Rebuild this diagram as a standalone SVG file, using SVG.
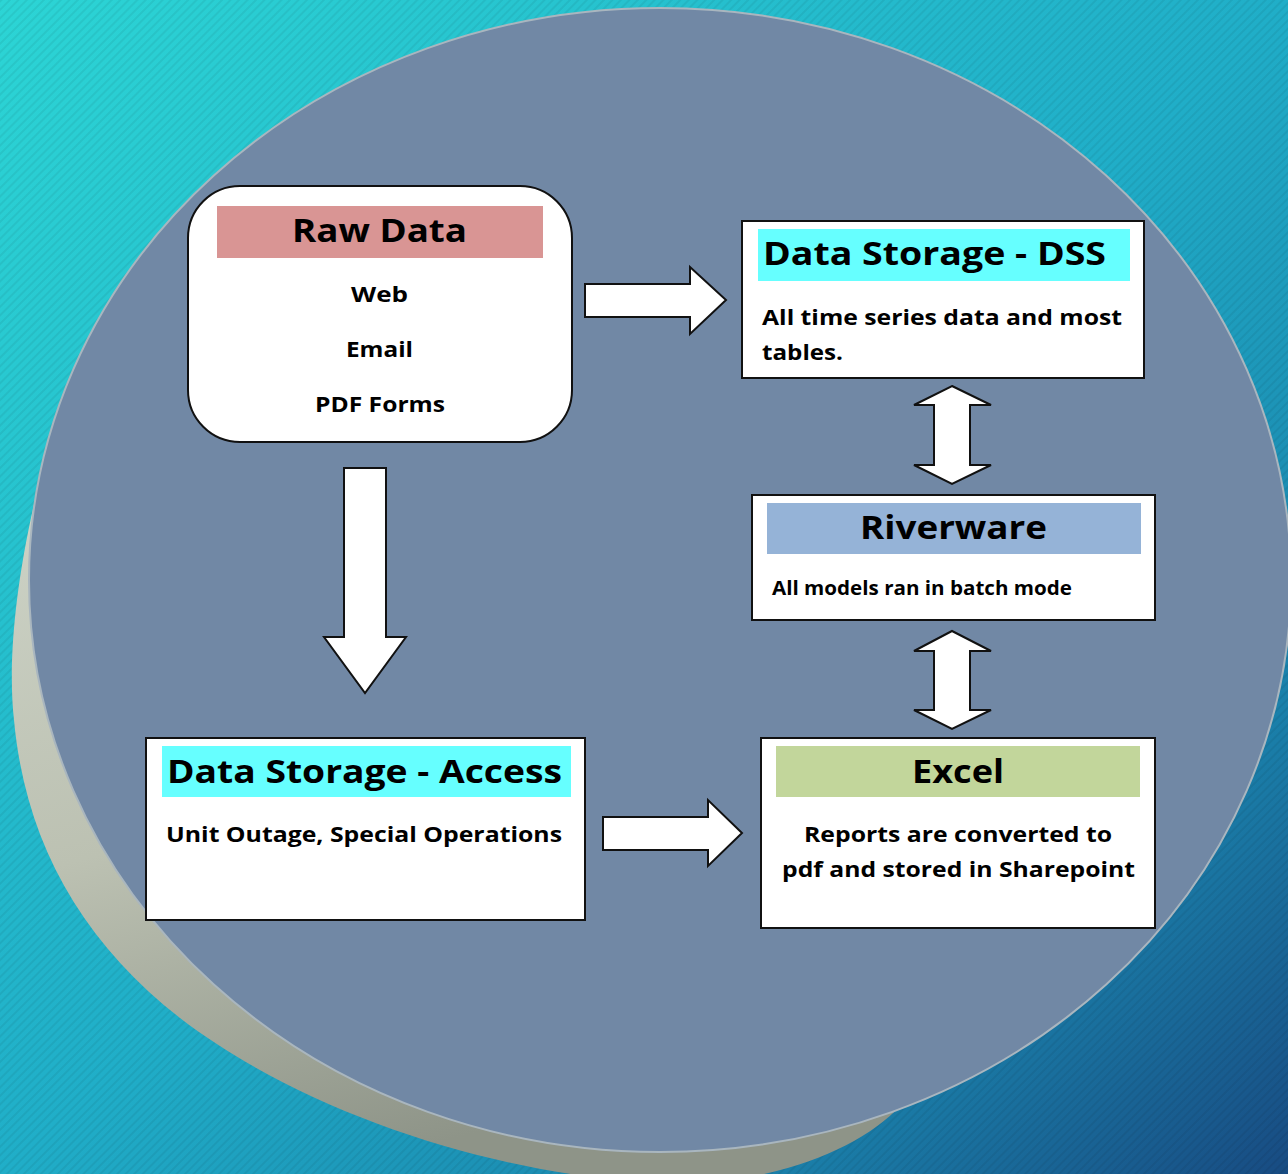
<svg xmlns="http://www.w3.org/2000/svg" width="1288" height="1174" viewBox="0 0 1288 1174">
<defs>
<linearGradient id="bg" x1="0" y1="0" x2="1" y2="1">
<stop offset="0" stop-color="#2cd5d5"/>
<stop offset="0.5" stop-color="#20aec8"/>
<stop offset="0.8" stop-color="#1a80aa"/>
<stop offset="1" stop-color="#184b82"/>
</linearGradient>
<pattern id="stripes" width="6" height="6" patternUnits="userSpaceOnUse" patternTransform="rotate(45)">
<rect x="0" y="0" width="2" height="6" fill="#000" fill-opacity="0.06"/>
</pattern>
<linearGradient id="shadow" x1="0" y1="0" x2="0.3" y2="1">
<stop offset="0" stop-color="#d0d6ca"/>
<stop offset="0.55" stop-color="#bcc1b2"/>
<stop offset="1" stop-color="#8e9488"/>
</linearGradient>
<style>
.t{font-family:"Open Sans","DejaVu Sans",sans-serif;font-weight:bold;fill:#000}
.h{font-size:33px}
.b{font-size:21px}
.box{fill:#fff;stroke:#111;stroke-width:2}
.arr{fill:#fff;stroke:#111;stroke-width:2;stroke-linejoin:miter}
</style>
</defs>
<rect width="1288" height="1174" fill="url(#bg)"/>
<rect width="1288" height="1174" fill="url(#stripes)"/>
<path d="M57,420 C25,520 5,640 14,720 C25,840 80,940 180,1018 C300,1110 480,1170 640,1182 C760,1192 860,1150 900,1106 L660,580 Z" fill="url(#shadow)"/>
<ellipse cx="660" cy="580" rx="631" ry="572" fill="#7188a5" stroke="#a9b6bf" stroke-width="2"/>

<g id="connectors">
<path class="arr" d="M585,284 H690 V267 L726,300 L690,334 V317 H585 Z"/>
<path class="arr" d="M344,468 H386 V637 H406 L365,693 L324,637 H344 Z"/>
<path class="arr" d="M603,817 H708 V800 L742,833 L708,866 V850 H603 Z"/>
<path class="arr" d="M952,386 L991,405 H970 V465 H991 L952,484 L914,465 H934 V405 H914 Z"/>
<path class="arr" d="M952,631 L991,651 H970 V710 H991 L952,729 L914,710 H934 V651 H914 Z"/>
</g>

<g id="raw-data">
<rect class="box" x="188" y="186" width="384" height="256" rx="52"/>
<rect x="217" y="206" width="326" height="52" fill="#d99594"/>
<text class="t h" x="292" y="242" textLength="175" lengthAdjust="spacingAndGlyphs">Raw Data</text>
<text class="t b" x="351" y="302" textLength="57" lengthAdjust="spacingAndGlyphs">Web</text>
<text class="t b" x="346" y="357" textLength="67" lengthAdjust="spacingAndGlyphs">Email</text>
<text class="t b" x="315" y="412" textLength="130" lengthAdjust="spacingAndGlyphs">PDF Forms</text>
</g>

<g id="dss">
<rect class="box" x="742" y="221" width="402" height="157"/>
<rect x="758" y="229" width="372" height="52" fill="#66ffff"/>
<text class="t h" x="763" y="265" textLength="343" lengthAdjust="spacingAndGlyphs">Data Storage - DSS</text>
<text class="t b" x="762" y="325" textLength="360" lengthAdjust="spacingAndGlyphs">All time series data and most</text>
<text class="t b" x="762" y="360" textLength="81" lengthAdjust="spacingAndGlyphs">tables.</text>
</g>

<g id="riverware">
<rect class="box" x="752" y="495" width="403" height="125"/>
<rect x="767" y="503" width="374" height="51" fill="#95b3d7"/>
<text class="t h" x="860" y="539" textLength="187" lengthAdjust="spacingAndGlyphs">Riverware</text>
<text class="t" style="font-size:19px" x="772" y="595" textLength="300" lengthAdjust="spacingAndGlyphs">All models ran in batch mode</text>
</g>

<g id="access">
<rect class="box" x="146" y="738" width="439" height="182"/>
<rect x="162" y="746" width="409" height="51" fill="#66ffff"/>
<text class="t h" x="167" y="783" textLength="395" lengthAdjust="spacingAndGlyphs">Data Storage - Access</text>
<text class="t b" x="166" y="842" textLength="396" lengthAdjust="spacingAndGlyphs">Unit Outage, Special Operations</text>
</g>

<g id="excel">
<rect class="box" x="761" y="738" width="394" height="190"/>
<rect x="776" y="746" width="364" height="51" fill="#c2d69b"/>
<text class="t h" x="912" y="783" textLength="92" lengthAdjust="spacingAndGlyphs">Excel</text>
<text class="t b" x="804" y="842" textLength="308" lengthAdjust="spacingAndGlyphs">Reports are converted to</text>
<text class="t b" x="782" y="877" textLength="353" lengthAdjust="spacingAndGlyphs">pdf and stored in Sharepoint</text>
</g>
</svg>
